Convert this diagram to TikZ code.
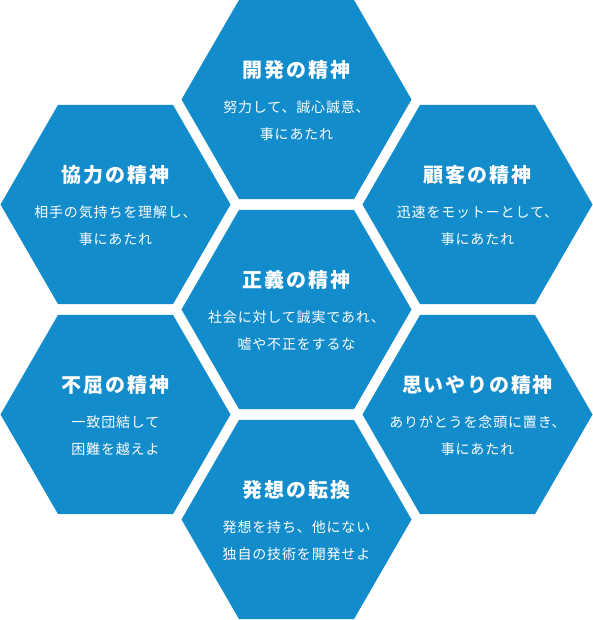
\documentclass[tikz,border=0pt]{standalone}
\usepackage{fontspec}
\setmainfont{Noto Sans CJK JP}
\newfontfamily\ttlfont[LetterSpace=9]{Noto Sans CJK JP}
\newfontfamily\subfont[LetterSpace=6]{Noto Sans CJK JP}
\usetikzlibrary{shapes.geometric}
\definecolor{hexblue}{HTML}{138CCC}
\begin{document}
\begin{tikzpicture}[x=1pt,y=-1pt,
  hexa/.style={regular polygon, regular polygon sides=6, minimum size=230pt, inner sep=0pt, fill=hexblue, draw=none},
  ttl/.style={text=white, inner sep=0pt, font=\ttlfont\fontsize{20}{24}\selectfont\bfseries, anchor=center},
  sub/.style={text=white, inner sep=0pt, font=\subfont\fontsize{14}{27}\selectfont, align=center, anchor=center}]
\useasboundingbox (0,0) rectangle (593,620);
\fill[white] (0,0) rectangle (593,620);
% hexagons
\node[hexa] (h1) at (296.5,99.5) {};
\node[hexa] (h2) at (115.5,204.5) {};
\node[hexa] (h3) at (477.5,204.5) {};
\node[hexa] (h4) at (296.5,309.5) {};
\node[hexa] (h5) at (115.5,414.5) {};
\node[hexa] (h6) at (477.5,414.5) {};
\node[hexa] (h7) at (296.5,519.5) {};
% titles
\node[ttl] (t1) at ([yshift=30pt]h1.center) {開発の精神};
\node[ttl] (t2) at ([yshift=30pt]h2.center) {協力の精神};
\node[ttl] (t3) at ([yshift=30pt]h3.center) {顧客の精神};
\node[ttl] (t4) at ([yshift=30pt]h4.center) {正義の精神};
\node[ttl] (t5) at ([yshift=30pt]h5.center) {不屈の精神};
\node[ttl] (t6) at ([yshift=30pt]h6.center) {思いやりの精神};
\node[ttl] (t7) at ([yshift=30pt]h7.center) {発想の転換};
% subtitles
\node[sub] (s1) at ([yshift=-21.5pt]h1.center) {努力して、誠心誠意、\\事にあたれ};
\node[sub] (s2) at ([yshift=-21.5pt]h2.center) {相手の気持ちを理解し、\\事にあたれ};
\node[sub] (s3) at ([yshift=-21.5pt]h3.center) {迅速をモットーとして、\\事にあたれ};
\node[sub] (s4) at ([yshift=-21.5pt]h4.center) {社会に対して誠実であれ、\\嘘や不正をするな};
\node[sub] (s5) at ([yshift=-21.5pt]h5.center) {一致団結して\\困難を越えよ};
\node[sub] (s6) at ([yshift=-21.5pt]h6.center) {ありがとうを念頭に置き、\\事にあたれ};
\node[sub] (s7) at ([yshift=-21.5pt]h7.center) {発想を持ち、他にない\\独自の技術を開発せよ};
\end{tikzpicture}
\end{document}
